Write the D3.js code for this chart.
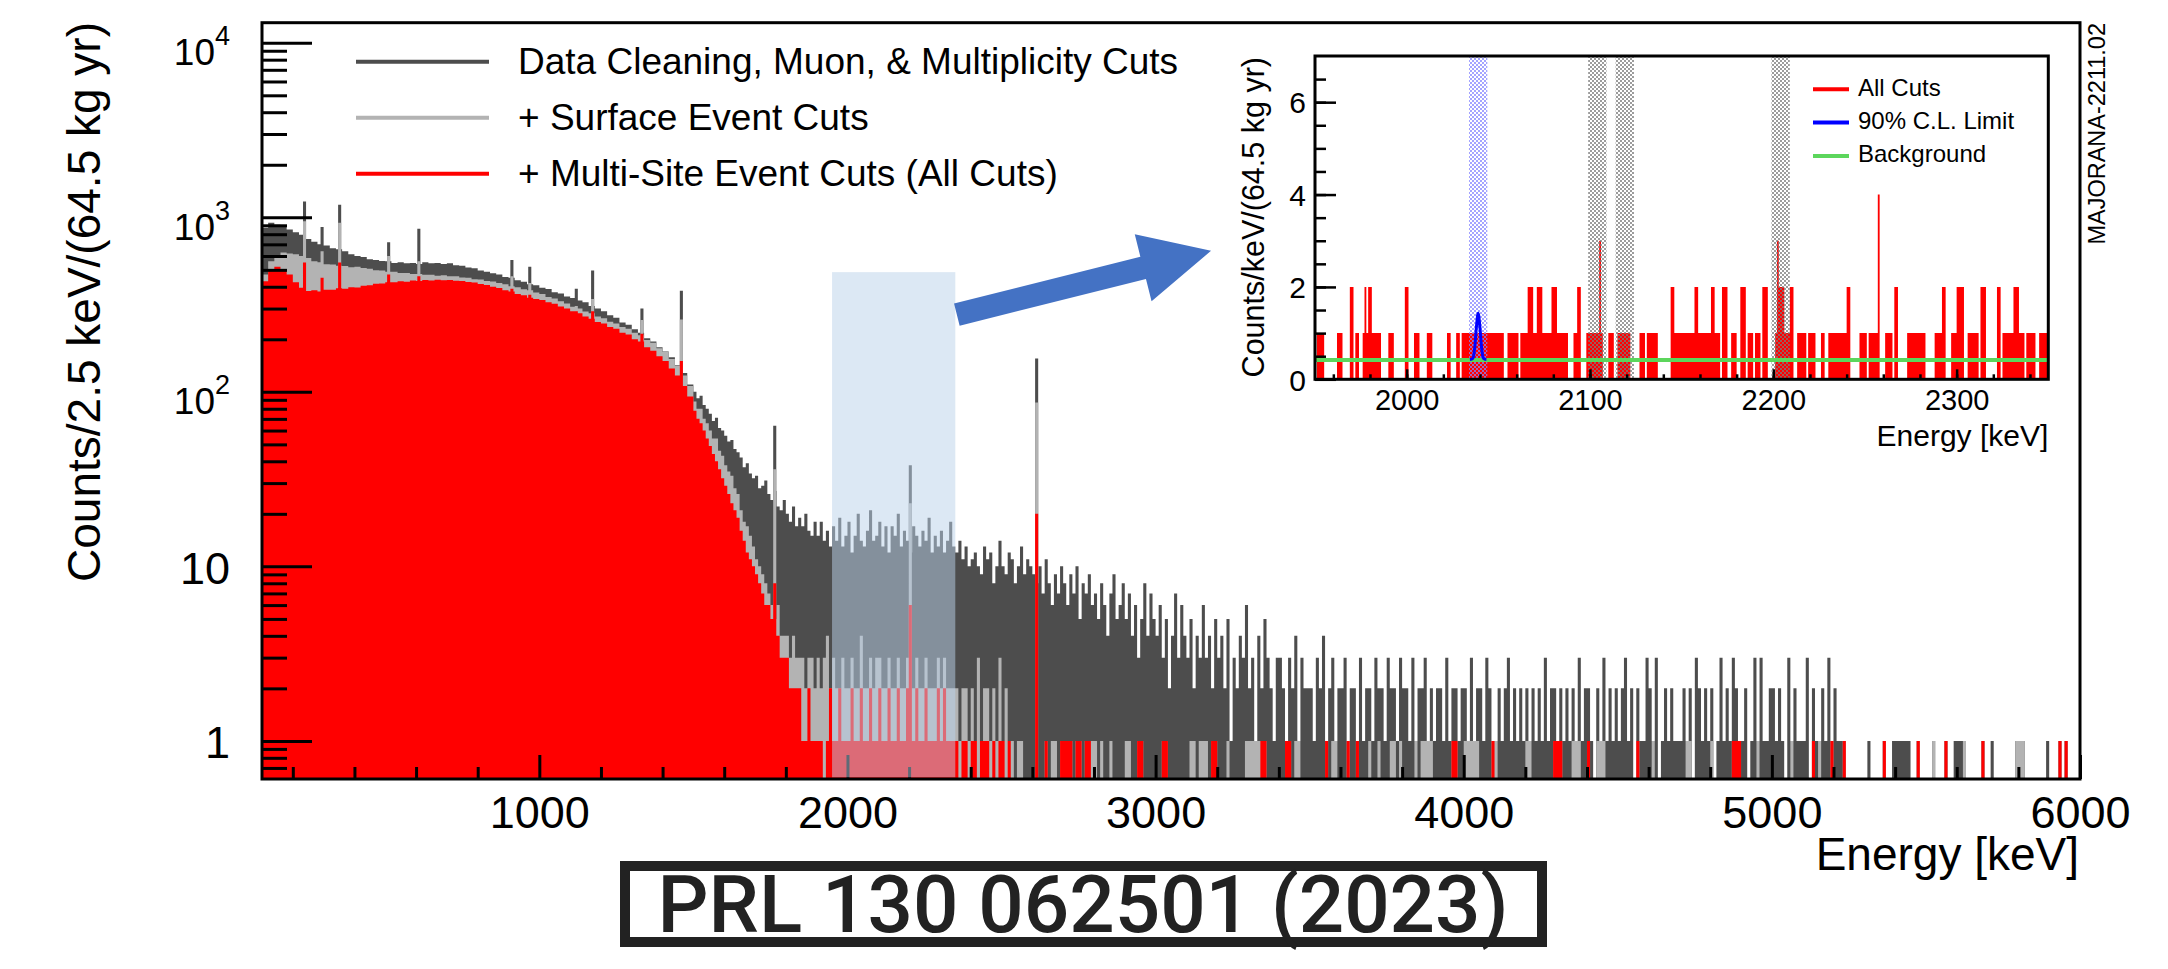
<!DOCTYPE html>
<html>
<head>
<meta charset="utf-8">
<script src="https://cdn.jsdelivr.net/npm/d3@7"></script>
<style>
  body { margin: 0; background: #fff; }
  text { font-family: "Liberation Sans", Arial, Helvetica, sans-serif; fill: #000; }
</style>
</head>
<body>
<svg id="chart" width="2168" height="969"></svg>
<script>
// ---- main spectrum, counts per 2.5 keV bin ----
// 100-1500 keV, one value per 20 keV
var denseStart = 100, denseStep = 20;
var darkDense = [870,930,905,880,850,820,795,750,725,700,
  690,665,655,640,615,600,592,575,570,562,
  560,548,552,545,548,540,552,546,548,540,
  545,532,528,515,510,496,488,478,470,455,
  450,436,428,414,408,395,388,372,366,352,
  345,334,326,310,300,290,275,266,250,242,
  228,218,203,194,180,170,158,142,128,110];
var grayDense = [470,560,600,628,620,615,600,585,560,552,
  538,536,528,526,518,520,512,508,498,496,
  488,487,480,479,473,474,468,468,463,465,
  460,460,452,450,442,440,432,429,420,414,
  403,398,387,382,371,364,350,343,330,321,
  307,300,289,282,270,264,252,246,235,230,
  218,211,198,191,178,169,154,141,124,108];
var redDense = [430,505,520,505,470,425,395,378,382,376,
  385,384,392,390,398,396,406,408,416,418,
  424,424,430,428,434,432,437,435,439,436,
  437,433,432,426,423,415,410,400,394,382,
  376,364,358,346,340,336,326,320,308,300,
  290,282,270,262,251,246,235,230,218,213,
  200,194,180,172,160,150,136,124,108,94];

// 1500-2400 keV, one value per 10 keV
var midStart = 1500, midStep = 10;
var darkMid = [100,92,95,84,80, 75,68,71,62,60,
  56,52,53,47,45, 42,37,39,34,32,
  33,28,29,31,26, 24,27,22,21,24,
  20,18,22,17,19, 17,20,16,15,18,
  15,18,14,16,13, 17,14,19,13,15,
  18,12,15,20,14, 13,16,21,14,15,
  18,13,17,12,17, 15,20,13,16,14,
  12,17,15,13,16, 14,19,12,15,13,
  16,12,14,18,13, 12,14,11,13,10];
var grayMid = [88,80,80,70,66, 60,54,54,46,43,
  38,35,33,28,26, 21,18,17,15,13,
  11,10,9,8,7, 6,5,6,4,4,
  4,3,4,3,3, 3,2,3,3,2,
  3,2,3,4,2, 3,2,2,3,2,
  2,3,2,2,4, 2,2,3,2,3,
  3,2,2,3,2, 2,3,2,2,3,
  2,2,3,2,2, 3,2,2,2,3,
  2,3,2,2,2, 2,1,2,2,1];
var redMid = [78,70,66,60,54, 49,44,40,36,32,
  29,26,23,21,19, 16,14,12,11,10,
  9,8,7,6,6, 5,4,4,3,3,
  3,2,2,2,2, 1,1,2,1,1,
  1,1,0,1,2, 1,1,2,1,1,
  1,2,1,1,2, 1,1,2,1,1,
  2,1,1,2,1, 1,2,1,1,2,
  1,1,2,1,1, 2,1,1,1,2,
  1,2,1,1,1, 1,0,1,1,0];

// 2400-6000 keV, one base-36 digit per 10 keV, one string per 100 keV
var tailStart = 2400, tailStep = 10;
var darkTail = ["bca9dbc8ae","a9cb8ad9ba","98a7b8697a","8697a58796","7586479568",
  "5746358475","4635247364","3524363425","3425132436","2314253213",
  "3213241322","2132412312","2312213122","1322132213","2213122312",
  "1221312212","2131221321","1212312121","2121213122","1212121312",
  "2102131212","1231202113","2130121211","1212032121","2013121321",
  "1201313112","2121031211","1302112131","2111000000","0100001001",
  "1111100100","0010001001","1110000010","0100000001","1100000001",
  "0001010000"];
var grayTail = ["2131221213","1211011000","0000101101","1110110111","1010010000",
  "1100110000","0011000000","0110111011","0001000001","1111110000",
  "0011011000","0000010110","0010010001","0010001101","0000101111",
  "0000001100","1111100001","1000000000","1100000001","1100011100",
  "1001110000","0000001000","0100000000","0011000000","1000000111",
  "0000010000","0000001000","0001010001","0001000000","0000001000",
  "0000000100","0010001000","0010000010","0000000001","1100000000",
  "0001010000"];
var redTail = ["1101110101","1010000000","0000100001","1110110110","0000000000",
  "0000110000","0011000000","0000000011","0000000000","0000110000",
  "0011000000","0000010000","0010010000","0000000000","0000000000",
  "0000001100","0000000001","0000000000","0000000001","1100000000",
  "1000000000","0000001000","0000000000","0000000000","0000000111",
  "0000000000","0000000000","0001000001","0001000000","0000001000",
  "0000000100","0000001000","0000000010","0000000000","0000000000",
  "0001010000"];

// gamma lines: [keV, dark, gray, red]
var peaks = [[238,1230,950,550],[295,880,640,450],[352,1180,930,550],
  [511,720,600,470],[609,860,560,460],[911,570,460,390],[969,520,420,360],
  [1120,390,310,290],[1173,495,340,290],[1333,300,258,215],[1461,380,260,150],
  [1764,64,36,8],[2204,38,23,6],[2614,155,87,20]];

var legendLabels = ["Data Cleaning, Muon, & Multiplicity Cuts", "+ Surface Event Cuts", "+ Multi-Site Event Cuts (All Cuts)"];
var seriesColors = ["#4d4d4d", "#b3b3b3", "#ff0000"];
var xTickValues = [1000, 2000, 3000, 4000, 5000, 6000];
var yTickValues = [1, 10, 100, 1000, 10000];

// highlighted window and arrow (keV, counts)
var roiWindow = [1950, 2350], roiTop = 485;
var arrowFrom = [2355, 277], arrowTo = [3180, 643];

// ---- inset: counts per keV, 1950-2349 keV, one digit per keV ----
var insetStart = 1950;
var insetCounts = [
  "0111100000","0011100002","2011001212","2111110000","1110000002",
  "2000111000","0111000000","0011000110","1111111111","1111111111",
  "1110011111","1011112221","1222111112","2211111100","0112200011",
  "1111131000","1110011111","1100000111","0111111000","0000221111",
  "1111111221","1111112211","1022200111","0022201110","1110222000",
  "0132221112","2001111101","1110001100","1111111111","2200000111",
  "1011111400","0111102200","0001111111","1110000011","1122000111",
  "2222001111","1102220000","0022011111","1222111011","1110011111"];
var backgroundLevel = 0.42;
var limitCurve = [[2034.5,0.43],[2036,0.45],[2037,0.64],[2038,1.11],[2039,1.43],
  [2040,1.11],[2041,0.64],[2042,0.45],[2043.5,0.43]];
var excludedBands = [[2099,2109],[2114,2124],[2199,2209]];
var roiBand = [2034, 2044];
var insetLegend = [["All Cuts","#ff0000"],["90% C.L. Limit","#0000ff"],["Background","#5cd65c"]];
var insetXTicks = [2000, 2100, 2200, 2300];
var insetYTicks = [0, 2, 4, 6];

// ---------------------------------------------------------------
var svg = d3.select("#chart");
svg.append("rect").attr("width", 2168).attr("height", 969).attr("fill", "#fff");

var plot = {left: 262, right: 2080, top: 22.7, bottom: 779};
var x = d3.scaleLinear().domain([100, 6000]).range([plot.left, plot.right]);
var y = d3.scaleLog().domain([0.605, 13030]).range([plot.bottom, plot.top]);

function cellsFromArray(start, step, vals) {
  return vals.map(function(v, i) { return {e0: start + i*step, e1: start + (i+1)*step, v: v}; });
}
function cellsFromString(start, step, groups) {
  return Array.from(groups.join("")).map(function(c, i) {
    return {e0: start + i*step, e1: start + (i+1)*step, v: parseInt(c, 36)};
  });
}
function histPath(cells, xs, ys, base) {
  return cells.filter(function(c) { return c.v > 0; }).map(function(c) {
    return "M" + xs(c.e0) + "," + base + "V" + ys(c.v) + "H" + xs(c.e1) + "V" + base + "Z";
  }).join("");
}

var dense = [darkDense, grayDense, redDense];
var mid = [darkMid, grayMid, redMid];
var tail = [darkTail, grayTail, redTail];

svg.append("clipPath").attr("id", "plotClip").append("rect")
  .attr("x", plot.left).attr("y", plot.top)
  .attr("width", plot.right - plot.left).attr("height", plot.bottom - plot.top);

var gHist = svg.append("g").attr("clip-path", "url(#plotClip)");
seriesColors.forEach(function(col, k) {
  var cells = cellsFromArray(denseStart, denseStep, dense[k])
    .concat(cellsFromArray(midStart, midStep, mid[k]))
    .concat(cellsFromString(tailStart, tailStep, tail[k]))
    .concat(peaks.map(function(p) { return {e0: p[0]-5, e1: p[0]+5, v: p[k+1]}; }));
  gHist.append("path").attr("d", histPath(cells, x, y, plot.bottom)).attr("fill", col);
});

// axes (ROOT style: ticks inside)
var xMinor = d3.range(200, 6000, 200).filter(function(v) { return v % 1000 !== 0; });
var gx = svg.append("g").attr("transform", "translate(0," + plot.bottom + ")");
gx.append("g").call(d3.axisBottom(x).tickValues(xMinor).tickSize(-12).tickFormat(""));
gx.append("g").call(d3.axisBottom(x).tickValues(xTickValues).tickSize(-24).tickFormat(d3.format("d")));
gx.selectAll(".domain").remove();
gx.selectAll(".tick line").attr("stroke", "#000").attr("stroke-width", 3);
gx.selectAll(".tick text").attr("y", 49).attr("dy", 0).attr("font-size", 45)
  .attr("font-family", null).attr("fill", "#000");

var yMinor = [0.7, 0.8, 0.9];
[1, 10, 100, 1000].forEach(function(dec) { d3.range(2, 10).forEach(function(m) { yMinor.push(m*dec); }); });
var gy = svg.append("g").attr("transform", "translate(" + plot.left + ",0)");
gy.append("g").call(d3.axisLeft(y).tickValues(yMinor).tickSize(-25).tickFormat(""));
gy.append("g").attr("class", "ymaj").call(d3.axisLeft(y).tickValues(yTickValues).tickSize(-50));
gy.selectAll(".domain").remove();
gy.selectAll(".tick line").attr("stroke", "#000").attr("stroke-width", 3);
gy.selectAll(".ymaj .tick text").each(function(d) {
  var t = d3.select(this).text("").attr("x", -32).attr("dy", 0)
    .attr("font-family", null).attr("fill", "#000").attr("text-anchor", "end");
  if (d < 100) {
    t.attr("y", 17).attr("font-size", 45).text(d);
  } else {
    t.attr("y", 22);
    t.append("tspan").attr("font-size", 37).text("10");
    t.append("tspan").attr("font-size", 27).attr("dy", -20).text(Math.round(Math.log10(d)));
  }
});

// highlighted window
svg.append("rect")
  .attr("x", x(roiWindow[0])).attr("y", y(roiTop))
  .attr("width", x(roiWindow[1]) - x(roiWindow[0]))
  .attr("height", plot.bottom - 1.5 - y(roiTop))
  .attr("fill", "rgb(186,210,233)").attr("fill-opacity", 0.51);

// frame
svg.append("rect").attr("x", plot.left).attr("y", plot.top)
  .attr("width", plot.right - plot.left).attr("height", plot.bottom - plot.top)
  .attr("fill", "none").attr("stroke", "#000").attr("stroke-width", 3);

// titles
svg.append("text").attr("transform", "translate(100,22) rotate(-90)")
  .attr("text-anchor", "end").attr("font-size", 46).text("Counts/2.5 keV/(64.5 kg yr)");
svg.append("text").attr("x", 2079).attr("y", 870).attr("text-anchor", "end")
  .attr("font-size", 46).text("Energy [keV]");

// legend
legendLabels.forEach(function(lab, i) {
  var yy = 61.7 + i*56;
  svg.append("line").attr("x1", 356).attr("x2", 489).attr("y1", yy).attr("y2", yy)
    .attr("stroke", seriesColors[i]).attr("stroke-width", 4);
  svg.append("text").attr("x", 518).attr("y", yy + 12).attr("font-size", 37).text(lab);
});

// arrow
(function() {
  var p0 = [x(arrowFrom[0]), y(arrowFrom[1])], p1 = [x(arrowTo[0]), y(arrowTo[1])];
  var dx = p1[0]-p0[0], dy = p1[1]-p0[1], L = Math.hypot(dx, dy);
  var ux = dx/L, uy = dy/L, nx = -uy, ny = ux;
  var sw = 11.5, hw = 34.5, hl = 70;
  var b = [p1[0] - ux*hl, p1[1] - uy*hl];
  var pts = [
    [p0[0] + nx*sw, p0[1] + ny*sw], [b[0] + nx*sw, b[1] + ny*sw], [b[0] + nx*hw, b[1] + ny*hw],
    p1, [b[0] - nx*hw, b[1] - ny*hw], [b[0] - nx*sw, b[1] - ny*sw], [p0[0] - nx*sw, p0[1] - ny*sw]];
  svg.append("path").attr("d", "M" + pts.join("L") + "Z").attr("fill", "#4472c4");
})();

// ---------------- inset ----------------
var ib = {left: 1315, right: 2048.3, top: 56, bottom: 379.3};
var xi = d3.scaleLinear().domain([1950, 2350]).range([ib.left, ib.right]);
var yi = d3.scaleLinear().domain([0, 7]).range([ib.bottom, ib.top]);

var defs = svg.append("defs");
function dotPattern(id, col) {
  var p = defs.append("pattern").attr("id", id).attr("width", 4).attr("height", 4)
    .attr("patternUnits", "userSpaceOnUse");
  p.append("circle").attr("cx", 1).attr("cy", 1).attr("r", 1.0).attr("fill", col);
  p.append("circle").attr("cx", 3).attr("cy", 3).attr("r", 1.0).attr("fill", col);
}
dotPattern("dotGray", "#7a7a7a");
dotPattern("dotBlue", "#8585ff");

svg.append("rect").attr("x", ib.left).attr("y", ib.top)
  .attr("width", ib.right - ib.left).attr("height", ib.bottom - ib.top).attr("fill", "#fff");

var insetCells = cellsFromString(insetStart, 1, insetCounts);
svg.append("path").attr("d", histPath(insetCells, xi, yi, ib.bottom)).attr("fill", "#ff0000");

excludedBands.forEach(function(bd) {
  svg.append("rect").attr("x", xi(bd[0])).attr("y", ib.top)
    .attr("width", xi(bd[1]) - xi(bd[0])).attr("height", ib.bottom - ib.top)
    .attr("fill", "url(#dotGray)");
});
svg.append("rect").attr("x", xi(roiBand[0])).attr("y", ib.top)
  .attr("width", xi(roiBand[1]) - xi(roiBand[0])).attr("height", ib.bottom - ib.top)
  .attr("fill", "url(#dotBlue)");

svg.append("line").attr("x1", ib.left).attr("x2", ib.right)
  .attr("y1", yi(backgroundLevel)).attr("y2", yi(backgroundLevel))
  .attr("stroke", "#5cd65c").attr("stroke-width", 4);
svg.append("path").datum(limitCurve)
  .attr("d", d3.line().x(function(d) { return xi(d[0]); }).y(function(d) { return yi(d[1]); })
    .curve(d3.curveCatmullRom))
  .attr("fill", "none").attr("stroke", "#0000ff").attr("stroke-width", 3);

var gxi = svg.append("g").attr("transform", "translate(0," + ib.bottom + ")");
gxi.append("g").call(d3.axisBottom(xi).tickValues(d3.range(1960, 2350, 20)).tickSize(-5).tickFormat(""));
gxi.append("g").call(d3.axisBottom(xi).tickValues(insetXTicks).tickSize(-10).tickFormat(d3.format("d")));
gxi.selectAll(".domain").remove();
gxi.selectAll(".tick line").attr("stroke", "#000").attr("stroke-width", 2.5);
gxi.selectAll(".tick text").attr("y", 31).attr("dy", 0).attr("font-size", 29)
  .attr("font-family", null).attr("fill", "#000");

var gyi = svg.append("g").attr("transform", "translate(" + ib.left + ",0)");
gyi.append("g").call(d3.axisLeft(yi).tickValues(d3.range(0.5, 7, 0.5)).tickSize(-11).tickFormat(""));
gyi.append("g").call(d3.axisLeft(yi).tickValues(insetYTicks).tickSize(-21).tickFormat(d3.format("d")));
gyi.selectAll(".domain").remove();
gyi.selectAll(".tick line").attr("stroke", "#000").attr("stroke-width", 2.5);
gyi.selectAll(".tick text").attr("x", -9).attr("dy", "0.36em").attr("font-size", 30)
  .attr("font-family", null).attr("fill", "#000");

svg.append("rect").attr("x", ib.left).attr("y", ib.top)
  .attr("width", ib.right - ib.left).attr("height", ib.bottom - ib.top)
  .attr("fill", "none").attr("stroke", "#000").attr("stroke-width", 3);

svg.append("text").attr("transform", "translate(1264,57) rotate(-90)")
  .attr("text-anchor", "end").attr("font-size", 30.5).text("Counts/keV/(64.5 kg yr)");
svg.append("text").attr("x", ib.right).attr("y", 446).attr("text-anchor", "end")
  .attr("font-size", 30).text("Energy [keV]");

insetLegend.forEach(function(e, i) {
  var yy = 89.3 + i*33.3;
  svg.append("line").attr("x1", 1813).attr("x2", 1849).attr("y1", yy).attr("y2", yy)
    .attr("stroke", e[1]).attr("stroke-width", 4);
  svg.append("text").attr("x", 1858).attr("y", yy + 6.5).attr("font-size", 24).text(e[0]);
});

// side tag and reference box
svg.append("text").attr("transform", "translate(2105,23) rotate(-90)")
  .attr("text-anchor", "end").attr("font-size", 23.5).text("MAJORANA-2211.02");

svg.append("rect").attr("x", 625).attr("y", 866).attr("width", 917).attr("height", 76)
  .attr("fill", "none").attr("stroke", "#222").attr("stroke-width", 10);
svg.append("text").attr("x", 1083).attr("y", 932).attr("text-anchor", "middle")
  .style("font-family", "Roboto, 'Liberation Sans', sans-serif").style("font-weight", 500)
  .style("fill", "#222").attr("font-size", 80).text("PRL 130 062501 (2023)");
</script>
</body>
</html>
